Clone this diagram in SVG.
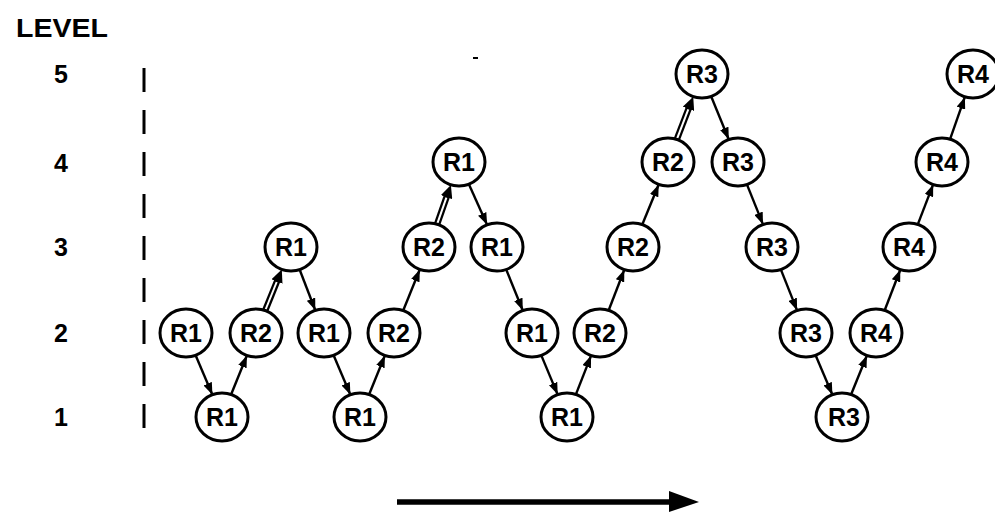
<svg xmlns="http://www.w3.org/2000/svg" width="995" height="512" viewBox="0 0 995 512">
<style>
.n ellipse{fill:#fff;stroke:#000;stroke-width:3}
.n text{font-family:"Liberation Sans",Arial,sans-serif;font-weight:bold;font-size:25px;text-anchor:middle;fill:#000}
.lbl{font-family:"Liberation Sans",Arial,sans-serif;font-weight:bold;fill:#000}
.e{stroke:#000;stroke-width:2.4;fill:none;marker-end:url(#ah)}
.d{stroke:#000;stroke-width:6.5;fill:none;marker-end:url(#ahd)}
.dw{stroke:#fff;stroke-width:2;fill:none}
</style>
<defs>
<marker id="ah" markerUnits="userSpaceOnUse" markerWidth="12" markerHeight="9" refX="12" refY="4.5" orient="auto"><path d="M0,0 L12,4.5 L0,9 z" fill="#000"/></marker>
<marker id="ahd" markerUnits="userSpaceOnUse" markerWidth="13" markerHeight="12" refX="1" refY="6" orient="auto"><path d="M0,0 L13,6 L0,12 z" fill="#000"/></marker>
</defs>
<rect width="995" height="512" fill="#fff"/>
<g id="axis">
<text class="lbl" x="16" y="37" font-size="26" textLength="92" lengthAdjust="spacingAndGlyphs">LEVEL</text>
<text class="lbl" x="61" y="83" font-size="25" text-anchor="middle">5</text>
<text class="lbl" x="61" y="172" font-size="25" text-anchor="middle">4</text>
<text class="lbl" x="61" y="256" font-size="25" text-anchor="middle">3</text>
<text class="lbl" x="61" y="342" font-size="25" text-anchor="middle">2</text>
<text class="lbl" x="61" y="426" font-size="25" text-anchor="middle">1</text>
<line x1="144" y1="68" x2="144" y2="432" stroke="#000" stroke-width="3" stroke-dasharray="24 18"/>
</g>
<rect x="473" y="57" width="5" height="2" fill="#000"/>
<g id="connectors">
<path class="e" d="M195.6,355.3 L212.4,394.7"/>
<path class="e" d="M231.1,394.5 L246.9,355.5"/>
<path class="d" d="M265.2,310.5 L277.3,280.6"/>
<path class="dw" d="M265.2,310.5 L276.7,282.0"/>
<path class="e" d="M299.7,269.7 L315.3,310.3"/>
<path class="e" d="M333.6,355.3 L350.4,394.7"/>
<path class="e" d="M369.1,394.5 L384.9,355.5"/>
<path class="e" d="M403.2,310.5 L419.8,269.5"/>
<path class="d" d="M437.1,224.1 L446.9,196.2"/>
<path class="dw" d="M437.1,224.1 L446.4,197.6"/>
<path class="e" d="M468.9,184.2 L487.1,224.8"/>
<path class="e" d="M506.2,269.5 L522.8,310.5"/>
<path class="e" d="M541.3,355.4 L557.7,394.6"/>
<path class="e" d="M575.9,394.4 L591.1,355.6"/>
<path class="e" d="M608.7,310.3 L624.3,269.7"/>
<path class="e" d="M642.3,224.5 L658.7,184.5"/>
<path class="d" d="M676.8,139.3 L688.9,107.9"/>
<path class="dw" d="M676.8,139.3 L688.3,109.3"/>
<path class="e" d="M711.2,96.5 L728.8,139.5"/>
<path class="e" d="M747,184.6 L763,224.4"/>
<path class="e" d="M780.9,269.6 L797.1,310.4"/>
<path class="e" d="M815.6,355.3 L832.4,394.7"/>
<path class="e" d="M851.1,394.5 L866.9,355.5"/>
<path class="e" d="M884.7,310.3 L900.3,269.7"/>
<path class="e" d="M917.8,224.4 L933.2,184.4"/>
<path class="e" d="M950.1,139.1 L964.9,96.9"/>
</g>
<g id="time-arrow">
<line x1="397" y1="502" x2="672" y2="502" stroke="#000" stroke-width="5.5"/>
<polygon points="669,491 699,502 669,512" fill="#000"/>
</g>
<g id="n1" class="n"><ellipse cx="186" cy="333" rx="26" ry="24"/><text x="186" y="342">R1</text></g>
<g id="n2" class="n"><ellipse cx="222" cy="417" rx="26" ry="24"/><text x="222" y="426">R1</text></g>
<g id="n3" class="n"><ellipse cx="256" cy="333" rx="26" ry="24"/><text x="256" y="342">R2</text></g>
<g id="n4" class="n"><ellipse cx="291" cy="247" rx="26" ry="24"/><text x="291" y="256">R1</text></g>
<g id="n5" class="n"><ellipse cx="324" cy="333" rx="26" ry="24"/><text x="324" y="342">R1</text></g>
<g id="n6" class="n"><ellipse cx="360" cy="417" rx="26" ry="24"/><text x="360" y="426">R1</text></g>
<g id="n7" class="n"><ellipse cx="394" cy="333" rx="26" ry="24"/><text x="394" y="342">R2</text></g>
<g id="n8" class="n"><ellipse cx="429" cy="247" rx="26" ry="24"/><text x="429" y="256">R2</text></g>
<g id="n9" class="n"><ellipse cx="459" cy="162" rx="26" ry="24"/><text x="459" y="171">R1</text></g>
<g id="n10" class="n"><ellipse cx="497" cy="247" rx="26" ry="24"/><text x="497" y="256">R1</text></g>
<g id="n11" class="n"><ellipse cx="532" cy="333" rx="26" ry="24"/><text x="532" y="342">R1</text></g>
<g id="n12" class="n"><ellipse cx="567" cy="417" rx="26" ry="24"/><text x="567" y="426">R1</text></g>
<g id="n13" class="n"><ellipse cx="600" cy="333" rx="26" ry="24"/><text x="600" y="342">R2</text></g>
<g id="n14" class="n"><ellipse cx="633" cy="247" rx="26" ry="24"/><text x="633" y="256">R2</text></g>
<g id="n15" class="n"><ellipse cx="668" cy="162" rx="26" ry="24"/><text x="668" y="171">R2</text></g>
<g id="n16" class="n"><ellipse cx="702" cy="74" rx="26" ry="24"/><text x="702" y="83">R3</text></g>
<g id="n17" class="n"><ellipse cx="738" cy="162" rx="26" ry="24"/><text x="738" y="171">R3</text></g>
<g id="n18" class="n"><ellipse cx="772" cy="247" rx="26" ry="24"/><text x="772" y="256">R3</text></g>
<g id="n19" class="n"><ellipse cx="806" cy="333" rx="26" ry="24"/><text x="806" y="342">R3</text></g>
<g id="n20" class="n"><ellipse cx="842" cy="417" rx="26" ry="24"/><text x="844" y="426">R3</text></g>
<g id="n21" class="n"><ellipse cx="876" cy="333" rx="26" ry="24"/><text x="876" y="342">R4</text></g>
<g id="n22" class="n"><ellipse cx="909" cy="247" rx="26" ry="24"/><text x="909" y="256">R4</text></g>
<g id="n23" class="n"><ellipse cx="942" cy="162" rx="26" ry="24"/><text x="942" y="171">R4</text></g>
<g id="n24" class="n"><ellipse cx="973" cy="74" rx="26" ry="24"/><text x="973" y="83">R4</text></g>
</svg>
